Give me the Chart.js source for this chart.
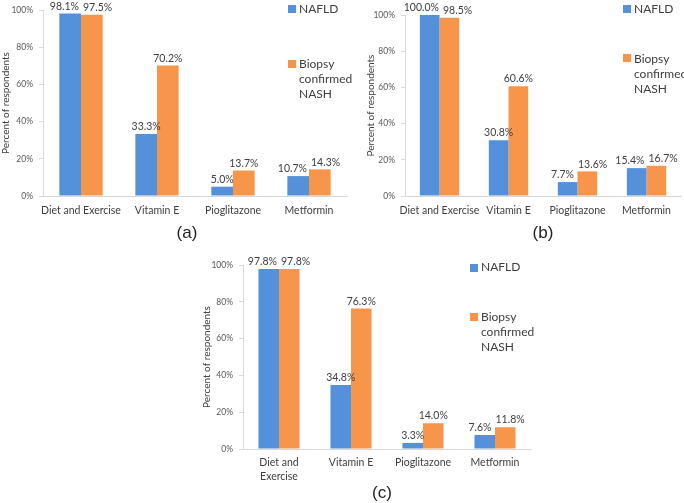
<!DOCTYPE html>
<html>
<head>
<meta charset="utf-8">
<script src="https://cdn.jsdelivr.net/npm/chart.js@4"></script>
<style>
  body { margin: 0; background: #fff; width: 684px; height: 503px; position: relative; overflow: hidden; font-family: Lato, sans-serif; }
  canvas { position: absolute; display: block; }
  .leg { position: absolute; font-size: 12px; color: #404040; line-height: 15px; white-space: nowrap; }
  .sw { position: absolute; width: 8px; height: 8px; }
  .cap { position: absolute; font-family: 'Liberation Sans', sans-serif; font-size: 17px; color: #222; transform: translate(-50%, -50%); }
</style>
</head>
<body>
<canvas id="chartA" width="348" height="230" style="left:0;top:-5px"></canvas>
<canvas id="chartB" width="336" height="225" style="left:348px;top:0"></canvas>
<canvas id="chartC" width="370" height="253" style="left:170px;top:250px"></canvas>

<div class="sw" style="left:288px;top:5px;background:#5590da"></div>
<div class="leg" style="left:299px;top:1px">NAFLD</div>
<div class="sw" style="left:288px;top:60px;background:#f7954a"></div>
<div class="leg" style="left:299px;top:56px">Biopsy<br>confirmed<br>NASH</div>
<div class="cap" style="left:187px;top:233px">(a)</div>

<div class="sw" style="left:623px;top:5px;background:#5590da"></div>
<div class="leg" style="left:634px;top:1px">NAFLD</div>
<div class="sw" style="left:623px;top:54px;background:#f7954a"></div>
<div class="leg" style="left:634px;top:51px">Biopsy<br>confirmed<br>NASH</div>
<div class="cap" style="left:543px;top:233px">(b)</div>

<div class="sw" style="left:470px;top:264px;background:#5590da"></div>
<div class="leg" style="left:481px;top:259px">NAFLD</div>
<div class="sw" style="left:470px;top:313px;background:#f7954a"></div>
<div class="leg" style="left:481px;top:309px">Biopsy<br>confirmed<br>NASH</div>
<div class="cap" style="left:382px;top:493px">(c)</div>

<script>
const categories = ['Diet and Exercise', 'Vitamin E', 'Pioglitazone', 'Metformin'];
const categoriesC = [['Diet and', 'Exercise'], 'Vitamin E', 'Pioglitazone', 'Metformin'];
const seriesNames = ['NAFLD', 'Biopsy confirmed NASH'];

const nafldA = [98.1, 33.3, 5.0, 10.7];
const nashA = [97.5, 70.2, 13.7, 14.3];
const nafldB = [100.0, 30.8, 7.7, 15.4];
const nashB = [98.5, 60.6, 13.6, 16.7];
const nafldC = [97.8, 34.8, 3.3, 7.6];
const nashC = [97.8, 76.3, 14.0, 11.8];

const yTicks = [0, 20, 40, 60, 80, 100];

const BLUE = '#5590da';
const ORANGE = '#f7954a';

// value labels above bars, pushed apart when the pair would overlap
const valueLabels = {
  id: 'valueLabels',
  afterDatasetsDraw(chart) {
    const ctx = chart.ctx;
    ctx.save();
    ctx.font = '10.5px Lato';
    ctx.fillStyle = '#404040';
    ctx.textAlign = 'center';
    ctx.textBaseline = 'bottom';
    const m0 = chart.getDatasetMeta(0).data;
    const m1 = chart.getDatasetMeta(1).data;
    const d0 = chart.data.datasets[0].data;
    const d1 = chart.data.datasets[1].data;
    m0.forEach((b0, j) => {
      const b1 = m1[j];
      const t0 = d0[j].toFixed(1) + '%';
      const t1 = d1[j].toFixed(1) + '%';
      const w0 = ctx.measureText(t0).width;
      const w1 = ctx.measureText(t1).width;
      let x0 = b0.x, x1 = b1.x;
      const gap = 4;
      const over = (x0 + w0 / 2 + gap) - (x1 - w1 / 2);
      // only spread when the two labels sit at similar heights
      if (over > 0 && Math.abs(b0.y - b1.y) < 14) {
        x0 -= over / 2;
        x1 += over / 2;
      }
      ctx.fillText(t0, x0, b0.y - 2);
      ctx.fillText(t1, x1, b1.y - 2);
    });
    ctx.restore();
  }
};

function makeChart(id, labels, nafld, nash, o) {
  return new Chart(document.getElementById(id), {
    type: 'bar',
    data: {
      labels: labels,
      datasets: [
        { label: seriesNames[0], data: nafld, backgroundColor: BLUE },
        { label: seriesNames[1], data: nash, backgroundColor: ORANGE }
      ]
    },
    options: {
      responsive: false,
      animation: false,
      categoryPercentage: 0.57,
      barPercentage: 1,
      layout: { padding: o.padding },
      plugins: { legend: { display: false }, tooltip: { enabled: false } },
      scales: {
        x: {
          grid: { display: false, drawTicks: false },
          border: { display: true, color: '#d9d9d9' },
          ticks: { color: '#404040', font: { family: 'Lato', size: 10.5, lineHeight: 1.3 }, padding: o.xPad, maxRotation: 0, autoSkip: false },
          afterFit: s => { s.height = o.xHeight; }
        },
        y: {
          min: 0, max: 100,
          afterBuildTicks: s => { s.ticks = yTicks.map(v => ({ value: v })); },
          grid: { display: true, drawOnChartArea: false, drawTicks: true, tickLength: 4, color: '#d9d9d9' },
          border: { display: true, color: '#d9d9d9' },
          ticks: { color: '#595959', font: { family: 'Lato', size: 8.5 }, padding: 6, callback: v => v + '%' },
          title: { display: true, text: 'Percent of respondents', color: '#404040', font: { family: 'Lato', size: 10 }, padding: { top: 0, bottom: 0 } },
          afterFit: s => { s.width = o.yWidth; }
        }
      }
    },
    plugins: [valueLabels]
  });
}

makeChart('chartA', categories, nafldA, nashA, { padding: { left: 0, top: 15, right: 1, bottom: 0 }, yWidth: 43, xHeight: 29, xPad: 8 });
makeChart('chartB', categories, nafldB, nashB, { padding: { left: 17, top: 15, right: 3, bottom: 0 }, yWidth: 40, xHeight: 29, xPad: 8 });
makeChart('chartC', categoriesC, nafldC, nashC, { padding: { left: 31, top: 15, right: 9, bottom: 14 }, yWidth: 42, xHeight: 40, xPad: 7 });
</script>
</body>
</html>
